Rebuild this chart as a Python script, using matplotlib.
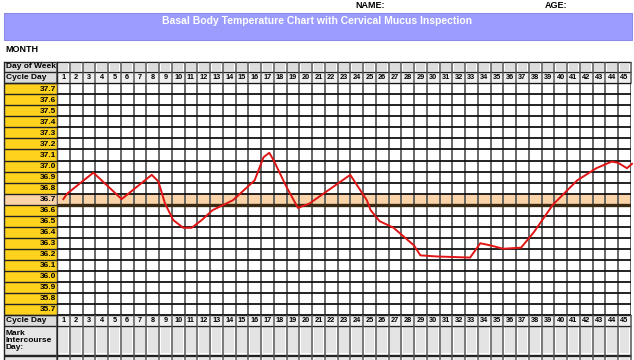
import matplotlib
matplotlib.use("Agg")
import matplotlib.pyplot as plt
from matplotlib.patches import Rectangle

# ---------------- data ----------------
days = list(range(1, 46))
temp_labels = ["37.7", "37.6", "37.5", "37.4", "37.3", "37.2", "37.1", "37.0",
               "36.9", "36.8", "36.7", "36.6", "36.5", "36.4", "36.3", "36.2",
               "36.1", "36.0", "35.9", "35.8", "35.7"]
highlight_temp = "36.7"
line_day = [1.0, 1.3, 3.35, 5.57, 7.93, 8.45, 8.97, 9.62, 10.4, 11.06, 11.85,
            12.7, 14.3, 16.0, 16.7, 17.15, 17.5, 18.5, 19.4, 20.3, 21.65, 23.5,
            24.8, 25.1, 25.8, 26.9, 28.5, 29.0, 30.3, 32.9, 33.7, 34.5, 35.5,
            36.9, 37.9, 39.4, 41.3, 42.8, 44.0, 44.5, 45.2, 45.6]
line_temp = [36.70, 36.75, 36.94, 36.70, 36.92, 36.86, 36.66, 36.51, 36.44, 36.44, 36.51,
             36.60, 36.69, 36.87, 37.08, 37.12, 37.05, 36.81, 36.62, 36.66, 36.77, 36.92,
             36.69, 36.60, 36.50, 36.44, 36.28, 36.19, 36.18, 36.17, 36.30, 36.28, 36.25,
             36.26, 36.40, 36.65, 36.87, 36.98, 37.04, 37.03, 36.98, 37.02]
title = "Basal Body Temperature Chart with Cervical Mucus Inspection"

# ---------------- layout (pixels) ----------------
W, H = 634, 360
X0, XL, XR = 4, 57, 630.75          # table left, label column right, table right
CW = (XR - XL) / len(days)
Y_DOW, Y_CD, Y_T0 = 62, 72, 83.3
RH = 11.03
Y_T1 = Y_T0 + RH * len(temp_labels)
Y_CD2 = Y_T1 + 11
Y_MI = Y_CD2 + 29

plt.rcParams['font.family'] = ['Liberation Sans', 'DejaVu Sans']
fig = plt.figure(figsize=(W / 100, H / 100), dpi=100)
fig.patch.set_facecolor("white")
bg = fig.add_axes([0, 0, 1, 1])
bg.set_xlim(0, W)
bg.set_ylim(H, 0)
bg.axis("off")

GOLD = "#FFD21E"
PEACH = "#FBD3A8"
GRAY = "#DCDCDC"
LIGHT = "#EFEFEF"

# header texts
bg.text(355, 5, "NAME:", fontsize=6.5, fontweight="bold", va="center", ha="left")
bg.text(545, 5, "AGE:", fontsize=6.5, fontweight="bold", va="center", ha="left")
bg.add_patch(Rectangle((X0, 13), XR - X0 + 1, 27, facecolor="#9C9CFF", edgecolor="#8a8ae8", lw=0.8))
bg.text((X0 + XR) / 2, 20.5, title, color="white", fontsize=7.5, fontweight="bold",
        ha="center", va="center")
bg.text(5, 50, "MONTH", fontsize=6.5, fontweight="bold", va="center", ha="left")


def col_x(i):
    return XL + i * CW


# Day of week row
bg.add_patch(Rectangle((X0, Y_DOW), XL - X0, Y_CD - Y_DOW, facecolor=GRAY, edgecolor="none"))
bg.text(X0 + 1.5, (Y_DOW + Y_CD) / 2, "Day of Week", fontsize=6, fontweight="bold", va="center")
for i in range(len(days)):
    bg.add_patch(Rectangle((col_x(i) + 1.5, Y_DOW + 1.5), CW - 3, Y_CD - Y_DOW - 3,
                           facecolor=GRAY, edgecolor="none"))

# Cycle day rows (top and bottom)
for yt, yb in [(Y_CD, Y_T0), (Y_T1, Y_CD2)]:
    bg.add_patch(Rectangle((X0, yt), XL - X0, yb - yt, facecolor=GRAY, edgecolor="none"))
    bg.text(X0 + 1.5, (yt + yb) / 2, "Cycle Day", fontsize=6, fontweight="bold", va="center")
    for i, d in enumerate(days):
        bg.add_patch(Rectangle((col_x(i) + 1, yt + 1), CW - 2, yb - yt - 2,
                               facecolor=LIGHT, edgecolor="none"))
        bg.text(col_x(i) + CW / 2, (yt + yb) / 2 + 0.3, str(d), fontsize=5.3,
                fontweight="bold", ha="center", va="center")

# Mark intercourse row
bg.add_patch(Rectangle((X0, Y_CD2), XL - X0, Y_MI - Y_CD2, facecolor="#E6E6E6", edgecolor="none"))
bg.text(X0 + 1.5, (Y_CD2 + Y_MI) / 2, "Mark\nIntercourse\nDay:", fontsize=6,
        fontweight="bold", va="center", linespacing=1.05)
for i in range(len(days)):
    bg.add_patch(Rectangle((col_x(i) + 1.5, Y_CD2 + 1.5), CW - 3, Y_MI - Y_CD2 - 3,
                           facecolor="#E4E4E4", edgecolor="none"))
# next partial row
bg.add_patch(Rectangle((X0, Y_MI + 2), XL - X0, H - Y_MI, facecolor="#E6E6E6", edgecolor="none"))
for i in range(len(days)):
    bg.add_patch(Rectangle((col_x(i) + 1.5, Y_MI + 3), CW - 3, H - Y_MI,
                           facecolor="#E4E4E4", edgecolor="none"))

# temperature label column
for k, lab in enumerate(temp_labels):
    yt = Y_T0 + k * RH
    fc = PEACH if lab == highlight_temp else GOLD
    bg.add_patch(Rectangle((X0, yt), XL - X0, RH, facecolor=fc, edgecolor="none"))
    bg.text(XL - 1, yt + RH / 2 + 0.3, lab, fontsize=6, fontweight="bold", ha="right", va="center")

# horizontal lines for header/footer rows
for yy in [Y_DOW, Y_CD, Y_T0, Y_T1, Y_CD2, Y_MI, Y_MI + 1.5]:
    bg.plot([X0, XR], [yy, yy], color="#222222", lw=1.0, solid_capstyle="butt")
for i in range(len(days) + 1):
    for yt, yb in [(Y_DOW, Y_T0), (Y_T1, H)]:
        bg.plot([col_x(i), col_x(i)], [yt, yb], color="#555555", lw=1.1, solid_capstyle="butt")
bg.plot([X0, X0], [Y_DOW, H], color="#222222", lw=1.0)
bg.plot([XL, XL], [Y_DOW, H], color="#222222", lw=1.0)
for k in range(len(temp_labels) + 1):
    yy = Y_T0 + k * RH
    bg.plot([X0, XL], [yy, yy], color="#222222", lw=1.0, solid_capstyle="butt")

# ---------------- temperature grid axes ----------------
temps = [float(t) for t in temp_labels]
ax = fig.add_axes([XL / W, 1 - Y_T1 / H, (XR - XL) / W, (Y_T1 - Y_T0) / H])
ax.set_xlim(days[0] - 0.5, days[-1] + 0.5)
ax.set_ylim(min(temps) - 0.05, max(temps) + 0.05)
ax.axis("off")
ax.patch.set_alpha(0)
hv = float(highlight_temp)
ax.axhspan(hv - 0.05, hv + 0.05, color=PEACH, zorder=0)
for d in days + [days[0] - 1]:
    ax.axvline(d + 0.5, color="#5a5a5a", lw=1.3, zorder=1)
for t in temps + [min(temps) - 0.1]:
    yb = t - 0.05
    if abs(yb - (hv - 0.05)) < 1e-6:
        ax.axhline(yb, color="#3a2a12", lw=2.4, zorder=2)
    else:
        ax.axhline(yb, color="#111111", lw=1.3, zorder=2)
ax.axhline(max(temps) + 0.05, color="#111111", lw=1.3, zorder=2)
ax.plot(line_day, line_temp, color="#E01414", lw=1.4, zorder=5, clip_on=False,
        solid_joinstyle="round")

fig.savefig("out.png", dpi=100, facecolor="white")
